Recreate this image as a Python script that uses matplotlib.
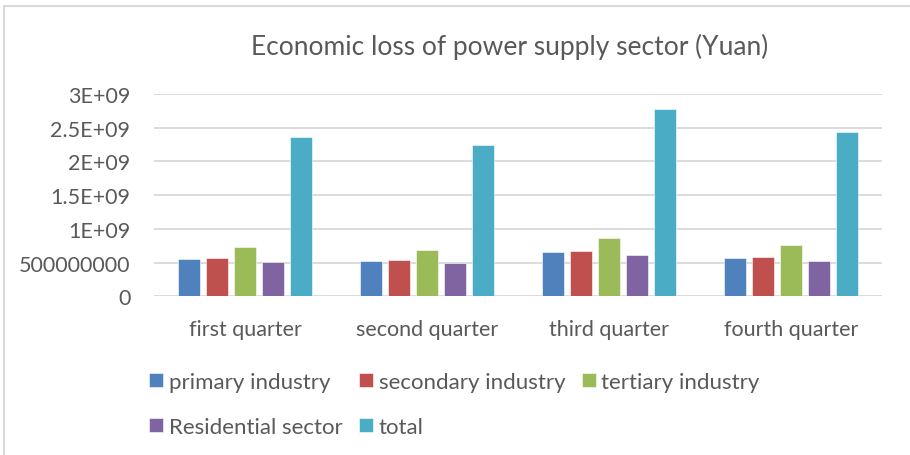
import matplotlib
matplotlib.use('Agg')
import matplotlib.pyplot as plt
import numpy as np
from matplotlib.patches import Rectangle

quarters = ['first quarter', 'second quarter', 'third quarter', 'fourth quarter']
series = ['primary industry', 'secondary industry', 'tertiary industry',
          'Residential sector', 'total']
primary = [0.549e9, 0.524e9, 0.653e9, 0.568e9]
secondary = [0.568e9, 0.543e9, 0.672e9, 0.588e9]
tertiary = [0.727e9, 0.692e9, 0.860e9, 0.757e9]
residential = [0.513e9, 0.490e9, 0.608e9, 0.528e9]
total = [2.359e9, 2.245e9, 2.783e9, 2.438e9]
yticks = [0, 0.5e9, 1e9, 1.5e9, 2e9, 2.5e9, 3e9]
ytick_labels = ['0', '500000000', '1E+09', '1.5E+09', '2E+09', '2.5E+09', '3E+09']

colors = ['#4F81BD', '#C0504D', '#9BBB59', '#8064A2', '#4BACC6']
txt = '#595959'
plt.rcParams['font.family'] = ['Lato', 'DejaVu Sans']

fig = plt.figure(figsize=[9.1, 4.56], dpi=100)
ax = fig.add_axes([154/910, 1-297.3/456, 728/910, 202.3/456])

x = np.arange(len(quarters))
width = 0.121
step = 0.154
bars = []
for i, vals in enumerate([primary, secondary, tertiary, residential, total]):
    b = ax.bar(x + (i-2)*step, vals, width, color=colors[i], label=series[i],
               edgecolor='white', linewidth=0.4, zorder=3)
    bars.append(b)

ax.set_xlim(-0.5, 3.5)
ax.set_ylim(0, 3e9)
ax.set_yticks(yticks)
ax.set_yticklabels(ytick_labels)
ax.set_xticks(x)
ax.set_xticklabels(quarters)
ax.tick_params(axis='both', length=0, colors=txt, labelsize=15.5)
ax.tick_params(axis='y', pad=17)
ax.tick_params(axis='x', pad=16.5)
ax.grid(axis='y', color='#d9d9d9', linewidth=1.3, zorder=0)
for s in ax.spines.values():
    s.set_visible(False)

fig.text(510/910, 1-47/456, 'Economic loss of power supply sector (Yuan)',
         ha='center', va='center', fontsize=19, color=txt)

# row-major order for the 3-column legend
order = [0, 3, 1, 4, 2]
leg = fig.legend([bars[k] for k in order], [series[k] for k in order], ncol=3,
                 loc='upper left', bbox_to_anchor=(149/910, 1-373/456),
                 frameon=False, fontsize=16, handlelength=0.63, handleheight=0.63,
                 handletextpad=0.25, columnspacing=0.75, labelspacing=1.12,
                 borderpad=0, borderaxespad=0)
for t in leg.get_texts():
    t.set_color(txt)

fig.patches.append(Rectangle((4/910, -0.1), 1.2, 1-7/456+0.1, transform=fig.transFigure,
                             fill=False, edgecolor='#d9d9d9', linewidth=1.5))

fig.savefig('out.png', dpi=100)
